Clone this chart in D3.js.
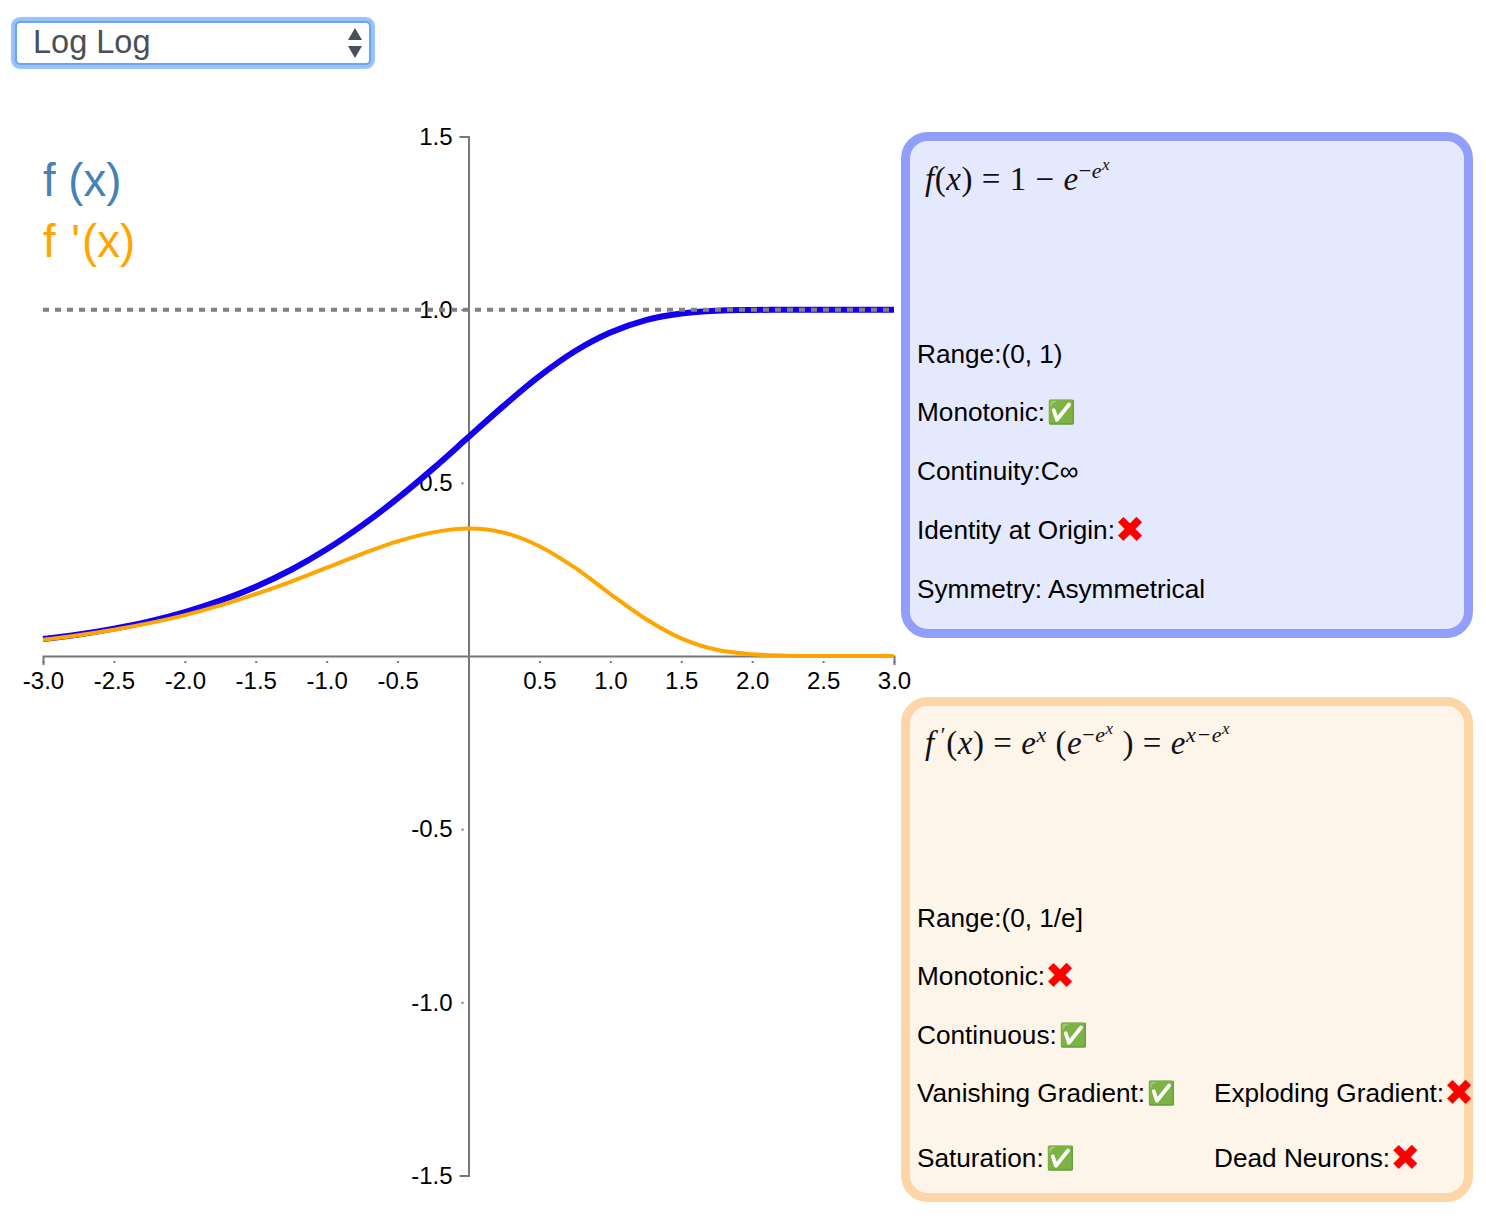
<!DOCTYPE html>
<html>
<head>
<meta charset="utf-8">
<title>Log Log</title>
<script src="https://cdn.jsdelivr.net/npm/d3@7"></script>
<style>
    html, body { margin: 0; padding: 0; background: #fff; }
    body { width: 1486px; height: 1218px; position: relative; overflow: hidden; font-family: "Liberation Sans", sans-serif; }
    #activation {
        position: absolute; left: 15px; top: 21px; width: 356px; height: 44px; box-sizing: border-box;
        padding: 0 0 2px 16px; font: 32.5px "Liberation Sans", sans-serif; color: #495057; background-color: #fff;
        border: 2px solid #6aa5f0; border-radius: 5px; box-shadow: 0 0 1px 4px #98c2f7; outline: none;
        appearance: none; -webkit-appearance: none;
        background-image: url("data:image/svg+xml,%3Csvg xmlns='http://www.w3.org/2000/svg' width='16' height='32'%3E%3Cpath d='M8 1l7 12H1zM8 31L1 19h14z' fill='%23495057'/%3E%3C/svg%3E");
        background-repeat: no-repeat; background-position: 330px 4px;
    }
    svg { position: absolute; left: 0; top: 0; }
    .axis text { font: 24px "Liberation Sans", sans-serif; fill: #000; }
    .axis path, .axis line { stroke: #777; stroke-width: 2px; }
    .axis .tick line { stroke-dasharray: 2 8; stroke-dashoffset: -5; }
    .info { font: 26.2px "Liberation Sans", sans-serif; fill: #000; }
    .info .yes { font-size: 23px; }
    .info .no { font: 36px "DejaVu Sans", sans-serif; fill: #f00; }
    .eq { font: 33px "Liberation Serif", serif; fill: #111; letter-spacing: 0.55px; }
    .eq .v { font-style: italic; }
</style>
</head>
<body>
<select id="activation"><option>Log Log</option></select>
<svg id="chart" width="1486" height="1218"></svg>
<script>
    // Values
    const xValues = [-3, -2.75, -2.5, -2.25, -2, -1.75, -1.5, -1.25, -1, -0.75, -0.5, -0.25, 0, 0.25, 0.5, 0.75, 1, 1.25, 1.5, 1.75, 2, 2.25, 2.5, 2.75, 3];
    const fValues = [0.049, 0.062, 0.079, 0.1, 0.127, 0.16, 0.2, 0.249, 0.308, 0.377, 0.455, 0.541, 0.632, 0.723, 0.808, 0.88, 0.934, 0.97, 0.989, 0.997, 0.999, 1, 1, 1, 1];
    const dfValues = [0.047, 0.06, 0.076, 0.095, 0.118, 0.146, 0.179, 0.215, 0.255, 0.295, 0.331, 0.357, 0.368, 0.356, 0.317, 0.255, 0.179, 0.107, 0.051, 0.018, 0.005, 0.001, 0, 0, 0];
    const xTicks = [-3, -2.5, -2, -1.5, -1, -0.5, 0.5, 1, 1.5, 2, 2.5, 3];
    const yTicks = [-1.5, -1, -0.5, 0.5, 1, 1.5];
    const legendLabels = ['f (x)', "f '(x)"];
    const functionLines = ['Range:(0, 1)', 'Monotonic:✅', 'Continuity:C∞', 'Identity at Origin:✖', 'Symmetry: Asymmetrical'];
    const derivativeLines = ['Range:(0, 1/e]', 'Monotonic:✖', 'Continuous:✅', 'Vanishing Gradient:✅', 'Saturation:✅'];
    const derivativeExtras = ['Exploding Gradient:✖', 'Dead Neurons:✖'];

    const d3svg = d3.select('#chart');
    const xScale = d3.scaleLinear().domain([-3, 3]).range([43, 894]);
    const yScale = d3.scaleLinear().domain([-1.5, 1.5]).range([1175.5, 136.5]);
    const tickFormat = (d) => d3.format('.1f')(d).replace('−', '-');

    // Axes
    d3svg.append('g').attr('class', 'axis')
        .attr('transform', 'translate(0,' + yScale(0) + ')')
        .call(d3.axisBottom(xScale).tickValues(xTicks).tickSize(9).tickPadding(7).tickFormat(tickFormat));
    d3svg.append('g').attr('class', 'axis')
        .attr('transform', 'translate(' + xScale(0) + ',0)')
        .call(d3.axisLeft(yScale).tickValues(yTicks).tickSize(9).tickPadding(7).tickFormat(tickFormat));

    // Curves
    const line = d3.line().curve(d3.curveCatmullRom).x((d) => xScale(d[0])).y((d) => yScale(d[1]));
    d3svg.append('path').datum(d3.zip(xValues, fValues)).attr('d', line)
        .attr('fill', 'none').attr('stroke', '#1400f0').attr('stroke-width', 6);
    d3svg.append('path').datum(d3.zip(xValues, dfValues)).attr('d', line)
        .attr('fill', 'none').attr('stroke', 'orange').attr('stroke-width', 4);
    d3svg.append('line')
        .attr('x1', xScale(-3)).attr('x2', xScale(3)).attr('y1', yScale(1)).attr('y2', yScale(1))
        .attr('stroke', '#808080').attr('stroke-width', 4).attr('stroke-dasharray', '6 6');

    // Legend
    d3svg.selectAll('.legend').data(legendLabels).enter().append('text')
        .attr('class', 'legend')
        .attr('x', 43)
        .attr('y', (d, i) => 196 + i * 60.5)
        .attr('dx', (d, i) => i ? '0 0 3 2' : null)
        .attr('font-size', 45.5)
        .attr('fill', (d, i) => i ? 'orange' : 'steelblue')
        .text((d) => d);

    // Info boxes
    function box(y, height, stroke, fill) {
        d3svg.append('rect')
            .attr('x', 905.5).attr('y', y).attr('width', 563).attr('height', height).attr('rx', 22)
            .attr('fill', fill).attr('stroke', stroke).attr('stroke-width', 9);
    }
    box(136.5, 497, '#919ffa', '#e5e9fd');
    box(701.5, 496, '#fed5a6', '#fef5ea');

    function infoLines(lines, x, ys) {
        lines.forEach((d, i) => {
            let parts = d.match(/^(.*?)([✅✖]?)$/),
                text = d3svg.append('text').attr('class', 'info').attr('x', x).attr('y', ys[i]).text(parts[1]);
            if (parts[2] === '✖') {
                text.append('tspan').attr('class', 'no').attr('dy', 3).text(parts[2]);
            } else if (parts[2]) {
                text.append('tspan').attr('class', 'yes').attr('dx', 2).attr('dy', -1).text(parts[2]);
            }
        });
    }
    infoLines(functionLines, 917, [363, 421, 480, 539, 598]);
    infoLines(derivativeLines, 917, [927, 985, 1044, 1102, 1167]);
    infoLines(derivativeExtras, 1214, [1102, 1167]);

    // Equations, each part is [text, italic, level]
    const fEquation = [['f', 1, 0], ['(', 0, 0], ['x', 1, 0], [') = 1 − ', 0, 0], ['e', 1, 0], ['−', 0, 1], ['e', 1, 1], ['x', 1, 2]];
    const dfEquation = [['f', 1, 0], [' ′', 0, 1], ['(', 0, 0], ['x', 1, 0], [') = ', 0, 0], ['e', 1, 0], ['x', 1, 1], [' (', 0, 0], ['e', 1, 0], ['−', 0, 1], ['e', 1, 1], ['x', 1, 2], [' ) = ', 0, 0], ['e', 1, 0], ['x−', 1, 1], ['e', 1, 1], ['x', 1, 2]];
    const levelSize = [33, 22, 17];
    const levelShift = [0, -12, -20];

    function equation(parts, x, y) {
        let text = d3svg.append('text').attr('class', 'eq').attr('x', x).attr('y', y),
            shift = 0;
        parts.forEach((p) => {
            text.append('tspan')
                .attr('class', p[1] ? 'v' : null)
                .attr('dy', levelShift[p[2]] - shift)
                .attr('font-size', levelSize[p[2]])
                .text(p[0]);
            shift = levelShift[p[2]];
        });
    }
    equation(fEquation, 925, 190);
    equation(dfEquation, 925, 754);
</script>
</body>
</html>
